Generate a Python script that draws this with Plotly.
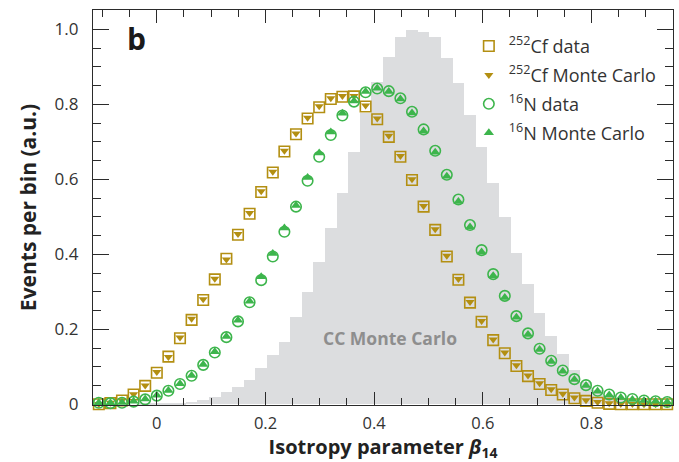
import plotly.graph_objects as go

# Beta_14 binning: 50 bins of equal width, centred on multiples of the width
BIN_WIDTH = 0.02135
bin_index = list(range(-5, 45))
beta_centers = [round(i * BIN_WIDTH, 5) for i in bin_index]

# CC Monte Carlo (normalised to peak = 1)
cc_mc = [0.000, 0.000, 0.000, 0.000, 0.001,
         0.001, 0.002, 0.004, 0.006, 0.011, 0.020, 0.034, 0.047, 0.065, 0.096,
         0.131, 0.167, 0.232, 0.300, 0.380, 0.469, 0.564, 0.674, 0.776, 0.860,
         0.927, 0.980, 0.998, 0.994, 0.980, 0.923, 0.856, 0.771, 0.687, 0.590,
         0.500, 0.403, 0.321, 0.243, 0.183, 0.134, 0.092, 0.060, 0.038, 0.022,
         0.013, 0.007, 0.004, 0.002, 0.001]

# 252Cf source
cf_data = [0.000, 0.003, 0.010, 0.026, 0.049,
           0.084, 0.127, 0.176, 0.225, 0.278, 0.333, 0.388, 0.452, 0.508, 0.566,
           0.618, 0.674, 0.720, 0.762, 0.792, 0.814, 0.820, 0.821, 0.794, 0.760,
           0.713, 0.660, 0.598, 0.527, 0.465, 0.394, 0.332, 0.271, 0.220, 0.171,
           0.136, 0.102, 0.075, 0.054, 0.038, 0.026, 0.016, 0.009, 0.004, 0.001,
           0.000, 0.000, 0.000, 0.000, 0.000]
cf_mc = [0.001, 0.004, 0.011, 0.027, 0.050,
         0.086, 0.126, 0.178, 0.228, 0.280, 0.335, 0.386, 0.454, 0.510, 0.568,
         0.620, 0.676, 0.722, 0.764, 0.795, 0.816, 0.822, 0.822, 0.797, 0.762,
         0.716, 0.662, 0.600, 0.529, 0.467, 0.396, 0.334, 0.273, 0.222, 0.173,
         0.138, 0.104, 0.077, 0.056, 0.040, 0.028, 0.018, 0.011, 0.006, 0.003,
         0.001, 0.001, 0.000, 0.000, 0.000]

# 16N source
n_data = [0.004, 0.003, 0.004, 0.007, 0.013,
          0.023, 0.036, 0.054, 0.076, 0.105, 0.138, 0.179, 0.221, 0.272, 0.331,
          0.394, 0.460, 0.527, 0.596, 0.660, 0.718, 0.770, 0.807, 0.832, 0.842,
          0.835, 0.816, 0.780, 0.733, 0.676, 0.612, 0.546, 0.478, 0.411, 0.347,
          0.289, 0.235, 0.189, 0.148, 0.116, 0.090, 0.067, 0.051, 0.036, 0.026,
          0.018, 0.014, 0.010, 0.008, 0.006]
n_mc = [0.004, 0.004, 0.005, 0.008, 0.014,
        0.024, 0.037, 0.055, 0.077, 0.106, 0.140, 0.181, 0.224, 0.275, 0.340,
        0.402, 0.470, 0.530, 0.605, 0.670, 0.726, 0.776, 0.809, 0.834, 0.843,
        0.834, 0.814, 0.777, 0.729, 0.672, 0.608, 0.541, 0.473, 0.406, 0.343,
        0.285, 0.232, 0.186, 0.146, 0.114, 0.088, 0.066, 0.050, 0.035, 0.025,
        0.018, 0.013, 0.010, 0.008, 0.006]

x_tick_vals = [0, 0.2, 0.4, 0.6, 0.8]
x_tick_text = ["0", "0.2", "0.4", "0.6", "0.8"]
y_tick_vals = [0, 0.2, 0.4, 0.6, 0.8, 1.0]
y_tick_text = ["0", "0.2", "0.4", "0.6", "0.8", "1.0"]

GOLD = "#B38F12"
GREEN = "#3DB54C"
GREY_FILL = "#DCDDDF"
AXIS = "#2b2b2b"
FONT = "Open Sans"

fig = go.Figure()

fig.add_trace(go.Bar(
    x=beta_centers, y=cc_mc, width=BIN_WIDTH,
    marker=dict(color=GREY_FILL, line=dict(width=0)),
    showlegend=False, hoverinfo="skip",
))

fig.add_trace(go.Scatter(
    x=beta_centers, y=cf_data, mode="markers", name="<sup>252</sup>Cf data",
    legendgroup="a",
    marker=dict(symbol="square-open", size=10.5, color=GOLD, line=dict(width=1.6, color=GOLD)),
    cliponaxis=False,
))
fig.add_trace(go.Scatter(
    x=beta_centers, y=cf_mc, mode="markers", name="<sup>252</sup>Cf Monte Carlo",
    legendgroup="b",
    marker=dict(symbol="triangle-down", size=8, color=GOLD),
    cliponaxis=False,
))
fig.add_trace(go.Scatter(
    x=beta_centers, y=n_data, mode="markers", name="<sup>16</sup>N data",
    legendgroup="c",
    marker=dict(symbol="circle-open", size=10.5, color=GREEN, line=dict(width=1.6, color=GREEN)),
    cliponaxis=False,
))
fig.add_trace(go.Scatter(
    x=beta_centers, y=n_mc, mode="markers", name="<sup>16</sup>N Monte Carlo",
    legendgroup="d",
    marker=dict(symbol="triangle-up", size=9, color=GREEN),
    cliponaxis=False,
))

fig.add_annotation(x=0.429, y=0.176, xref="x", yref="y", text="<b>CC Monte Carlo</b>",
                   showarrow=False, font=dict(family=FONT, size=17.5, color="#8E8E8E"))
fig.add_annotation(x=0.055, y=0.985, xref="paper", yref="paper", text="<b>b</b>",
                   showarrow=False, xanchor="left", yanchor="top",
                   font=dict(family=FONT, size=30, color="#1a1a1a"))

x_lo = -5.5 * BIN_WIDTH
x_hi = 44.5 * BIN_WIDTH

fig.update_layout(
    width=679, height=462,
    margin=dict(l=93, r=6, t=10, b=57),
    paper_bgcolor="white", plot_bgcolor="white",
    bargap=0,
    font=dict(family=FONT, color=AXIS),
    legend=dict(x=0.648, y=0.955, xanchor="left", yanchor="top",
                font=dict(family=FONT, size=18, color="#333333"),
                bgcolor="rgba(0,0,0,0)", tracegroupgap=2.5, itemwidth=30),
    xaxis=dict(
        range=[x_lo, x_hi], showgrid=False, zeroline=False,
        showline=True, linecolor=AXIS, linewidth=1.3, mirror="ticks",
        ticks="inside", ticklen=13, tickwidth=1.3, tickcolor=AXIS,
        tickvals=x_tick_vals, ticktext=x_tick_text,
        tickfont=dict(family=FONT, size=16.5, color="#333333"),
        ticklabelstandoff=3,
        minor=dict(dtick=0.05, tick0=0, ticks="inside", ticklen=7, tickwidth=1.2,
                   tickcolor=AXIS, showgrid=False),
        title=dict(text="<b>Isotropy parameter <i>β</i><sub>14</sub></b>",
                   font=dict(family=FONT, size=20, color="#222222"), standoff=9),
    ),
    yaxis=dict(
        range=[-0.002, 1.0515], showgrid=False, zeroline=False,
        showline=True, linecolor=AXIS, linewidth=1.3, mirror="ticks",
        ticks="inside", ticklen=16, tickwidth=1.3, tickcolor=AXIS,
        tickvals=y_tick_vals, ticktext=y_tick_text,
        tickfont=dict(family=FONT, size=17, color="#333333"),
        ticklabelstandoff=10,
        minor=dict(dtick=0.05, tick0=0, ticks="inside", ticklen=8, tickwidth=1.2,
                   tickcolor=AXIS, showgrid=False),
        title=dict(text="<b>Events per bin (a.u.)</b>",
                   font=dict(family=FONT, size=21, color="#222222"), standoff=12),
    ),
)

fig.write_html("out.html")
